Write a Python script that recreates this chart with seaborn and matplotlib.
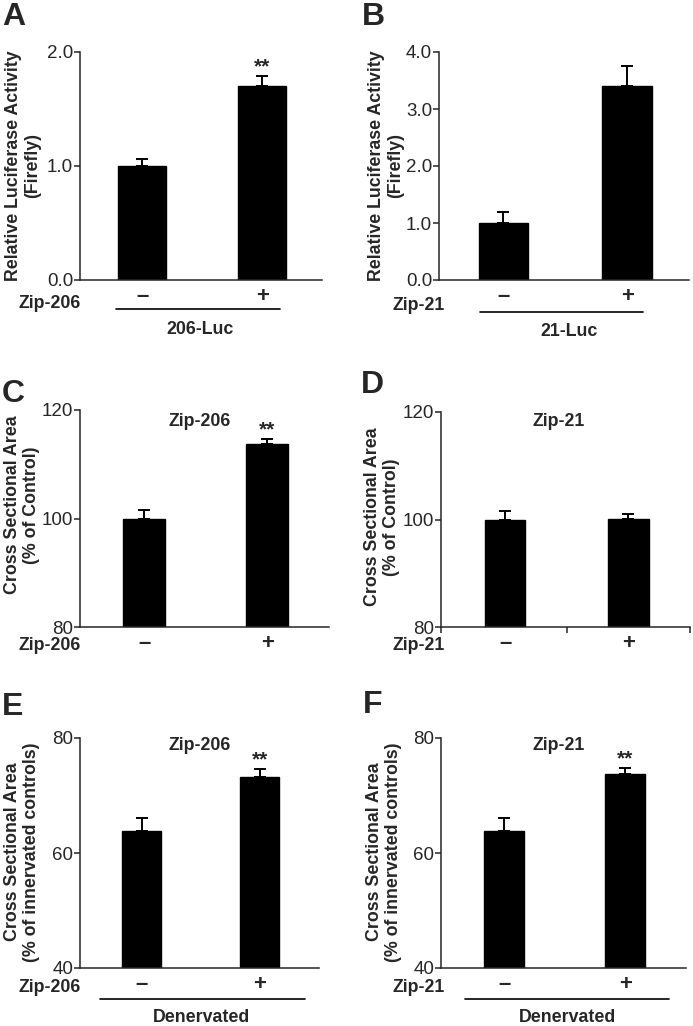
import matplotlib
matplotlib.use("Agg")
import matplotlib.pyplot as plt
from matplotlib.lines import Line2D
import seaborn as sns
import pandas as pd

# values
treat = ["–", "+"]
a_vals = [1.00, 1.70]
a_err = [0.06, 0.09]
b_vals = [1.00, 3.40]
b_err = [0.20, 0.35]
c_vals = [100.0, 113.8]
c_err = [1.5, 0.8]
d_vals = [100.0, 100.1]
d_err = [1.6, 0.9]
e_vals = [63.8, 73.2]
e_err = [2.3, 1.4]
f_vals = [63.9, 73.7]
f_err = [2.2, 1.1]
stars = {"A": [False, True], "B": [False, False], "C": [False, True],
         "D": [False, False], "E": [False, True], "F": [False, True]}

sns.set_style("ticks")
plt.rcParams["font.family"] = ["Liberation Sans", "DejaVu Sans"]
plt.rcParams["axes.linewidth"] = 1.1

W, H = 693, 1026
fig = plt.figure(figsize=(W / 100, H / 100), dpi=100)


def ftext(x, y, s, **kw):
    # place text using pixel coords (origin top-left)
    fig.text(x / W, 1 - y / H, s, **kw)


def fline(x0, x1, y):
    fig.add_artist(Line2D([x0 / W, x1 / W], [1 - y / H, 1 - y / H],
                          color="black", lw=1.2, transform=fig.transFigure))


def panel(box, vals, errs, ylim, yticks, fmt, width, star, dticks=False):
    l, t, r, b = box
    ax = fig.add_axes([l / W, 1 - b / H, (r - l) / W, (b - t) / H])
    df = pd.DataFrame({"treat": treat, "value": vals})
    sns.barplot(data=df, x="treat", y="value", order=treat, color="black",
                saturation=1, width=width, errorbar=None, ax=ax,
                edgecolor="black")
    ax.errorbar([0, 1], vals, yerr=[[0, 0], errs], fmt="none", ecolor="black",
                elinewidth=1.4, capsize=4, capthick=1.4, zorder=5)
    for i, s in enumerate(star):
        if s:
            ax.annotate("**", (i, vals[i] + errs[i]), xytext=(0, 0),
                        textcoords="offset points", ha="center", va="bottom",
                        fontsize=15, fontweight="bold")
    ax.set_ylim(*ylim)
    ax.set_xlim(-0.52, 1.5)
    ax.set_yticks(yticks)
    ax.set_yticklabels([fmt.format(v) for v in yticks], fontsize=13.5)
    ax.set_xticks([0, 1])
    ax.set_xticklabels(treat, fontsize=16, fontweight="bold")
    ax.tick_params(axis="y", length=4, width=1.1, pad=1)
    ax.tick_params(axis="x", length=0, pad=4)
    if dticks:
        ax.set_xticks([-0.52, 0.5, 1.5], minor=True)
        ax.tick_params(axis="x", which="minor", length=4, width=1.1)
    ax.set_xlabel("")
    ax.set_ylabel("")
    sns.despine(ax=ax)
    return ax


bold = dict(fontsize=12.8, fontweight="bold")
ylab = dict(rotation=90, ha="center", va="center", multialignment="center",
            linespacing=1.15, **bold)
letter = dict(fontsize=23, fontweight="bold", va="baseline", ha="left")

# A
panel((80, 52, 322, 280), a_vals, a_err, (0, 2), [0, 1, 2], "{:.1f}", 0.4, stars["A"])
ftext(2, 25, "A", **letter)
ftext(23, 166, "Relative Luciferase Activity\n(Firefly)", **ylab)
ftext(81, 303, "Zip-206", ha="right", va="center", **bold)
fline(116, 280, 309)
ftext(200, 330, "206-Luc", ha="center", va="center", **bold)

# B
panel((439, 52, 689, 280), b_vals, b_err, (0, 4), [0, 1, 2, 3, 4], "{:.1f}", 0.4, stars["B"])
ftext(362, 25, "B", **letter)
ftext(386, 166, "Relative Luciferase Activity\n(Firefly)", **ylab)
ftext(445, 305, "Zip-21", ha="right", va="center", **bold)
fline(480, 643, 312)
ftext(569, 331, "21-Luc", ha="center", va="center", **bold)

# C
panel((80, 410, 329, 627), c_vals, c_err, (80, 120), [80, 100, 120], "{:.0f}", 0.34, stars["C"])
ftext(2, 402, "C", **letter)
ftext(22, 505, "Cross Sectional Area\n(% of Control)", **ylab)
ftext(81, 646, "Zip-206", ha="right", va="center", **bold)
ftext(200, 422, "Zip-206", ha="center", va="center", **bold)

# D
panel((441, 412, 690, 627), d_vals, d_err, (80, 120), [80, 100, 120], "{:.0f}", 0.33, stars["D"], dticks=True)
ftext(361, 393, "D", **letter)
ftext(382, 517, "Cross Sectional Area\n(% of Control)", **ylab)
ftext(445, 646, "Zip-21", ha="right", va="center", **bold)
ftext(559, 421, "Zip-21", ha="center", va="center", **bold)

# E
panel((80, 738, 319, 968), e_vals, e_err, (40, 80), [40, 60, 80], "{:.0f}", 0.33, stars["E"])
ftext(2, 715, "E", **letter)
ftext(22, 852, "Cross Sectional Area\n(% of innervated controls)", **ylab)
ftext(81, 988, "Zip-206", ha="right", va="center", **bold)
fline(100, 305, 999)
ftext(202, 1018, "Denervated", ha="center", va="center", **bold)
ftext(200, 745, "Zip-206", ha="center", va="center", **bold)

# F
panel((441, 738, 686, 968), f_vals, f_err, (40, 80), [40, 60, 80], "{:.0f}", 0.33, stars["F"])
ftext(363, 713, "F", **letter)
ftext(384, 852, "Cross Sectional Area\n(% of innervated controls)", **ylab)
ftext(445, 988, "Zip-21", ha="right", va="center", **bold)
fline(465, 669, 999)
ftext(568, 1018, "Denervated", ha="center", va="center", **bold)
ftext(559, 745, "Zip-21", ha="center", va="center", **bold)

fig.savefig("out.png", dpi=100)
